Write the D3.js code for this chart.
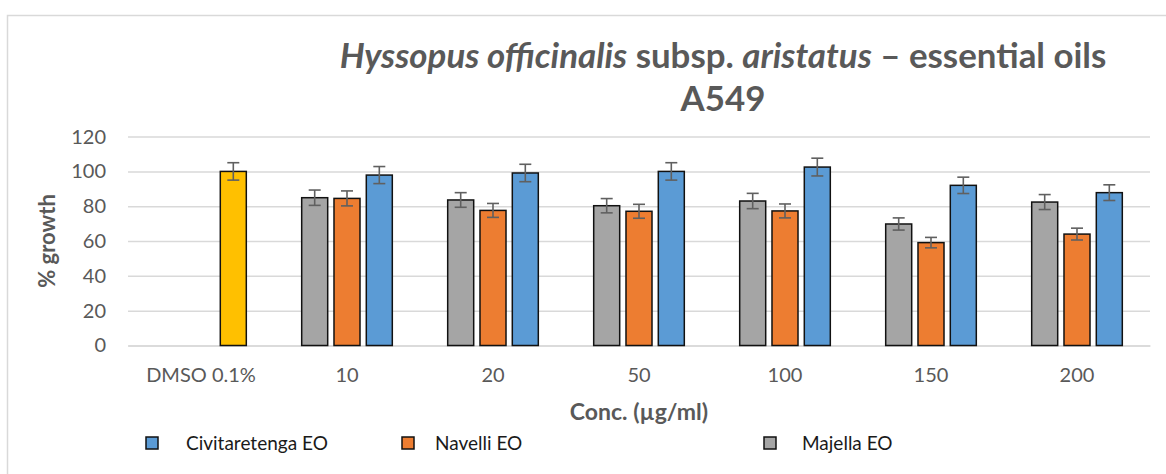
<!DOCTYPE html>
<html>
<head>
<meta charset="utf-8">
<script src="https://cdn.jsdelivr.net/npm/d3@7"></script>
<style>
  html, body { margin: 0; padding: 0; background: #fff; }
  svg { display: block; font-family: Lato, "Open Sans", sans-serif; }
</style>
</head>
<body>
<svg id="chart" width="1166" height="474"></svg>
<script>
// Concentrations tested (first group is the vehicle control)
const categories = ["DMSO 0.1%", "10", "20", "50", "100", "150", "200"];

// Series in bar order within each group (left to right)
const seriesNames = ["Majella EO", "Navelli EO", "Civitaretenga EO"];
// Legend order
const legendOrder = ["Civitaretenga EO", "Navelli EO", "Majella EO"];

// Mean % growth per concentration (null = not tested)
const majella       = [null, 84.9, 83.6, 80.3, 83.0, 69.8, 82.4];
const navelli       = [null, 84.5, 77.6, 77.1, 77.3, 59.1, 64.0];
const civitaretenga = [100.0, 97.9, 99.1, 100.0, 102.5, 92.0, 87.8];

// Error bar half-widths (SD)
const majellaErr       = [null, 4.4, 4.2, 4.1, 4.4, 3.5, 4.3];
const navelliErr       = [null, 4.3, 4.0, 4.0, 4.0, 3.0, 3.4];
const civitaretengaErr = [5.0, 4.9, 5.0, 5.0, 5.1, 4.7, 4.5];

const yTicks = [0, 20, 40, 60, 80, 100, 120];

const colors = {
  "Majella EO": "#A5A5A5",
  "Navelli EO": "#ED7D31",
  "Civitaretenga EO": "#5B9BD5"
};
const controlColor = "#FFC000";
const textColor = "#595959";
const gridColor = "#D9D9D9";

const values = {
  "Majella EO": majella,
  "Navelli EO": navelli,
  "Civitaretenga EO": civitaretenga
};
const errors = {
  "Majella EO": majellaErr,
  "Navelli EO": navelliErr,
  "Civitaretenga EO": civitaretengaErr
};

const svg = d3.select("#chart");

// Chart frame
svg.append("rect")
  .attr("x", 7.5).attr("y", 15.5)
  .attr("width", 1200).attr("height", 500)
  .attr("fill", "#fff")
  .attr("stroke", gridColor).attr("stroke-width", 1.5);

const plot = { left: 128, right: 1150, top: 136.6, bottom: 345.5 };

const x0 = d3.scaleBand()
  .domain(categories)
  .range([plot.left, plot.right])
  .padding(0);

const x1 = d3.scaleBand()
  .domain(seriesNames)
  .range([0, x0.bandwidth()])
  .paddingInner(0.195)
  .paddingOuter(0.857);

const y = d3.scaleLinear()
  .domain([0, 120])
  .range([plot.bottom, plot.top]);

// Horizontal gridlines
const yAxis = d3.axisLeft(y)
  .tickValues(yTicks)
  .tickSize(-(plot.right - plot.left))
  .tickPadding(22);

const gy = svg.append("g")
  .attr("transform", `translate(${plot.left},0)`)
  .call(yAxis);
gy.select(".domain").remove();
gy.selectAll(".tick line")
  .attr("stroke", gridColor).attr("stroke-width", 1.5);
gy.selectAll(".tick text")
  .attr("fill", textColor)
  .attr("font-size", 20)
  .attr("font-family", "Lato, sans-serif");

// Category axis
const xAxis = d3.axisBottom(x0).tickSize(0).tickPadding(22);
const gx = svg.append("g")
  .attr("transform", `translate(0,${plot.bottom})`)
  .call(xAxis);
gx.select(".domain").attr("stroke", gridColor).attr("stroke-width", 1.5);
gx.selectAll(".tick text")
  .attr("fill", textColor)
  .attr("font-size", 20)
  .attr("font-family", "Lato, sans-serif");

// Bars
const barData = [];
seriesNames.forEach(s => {
  categories.forEach((c, i) => {
    const v = values[s][i];
    if (v === null) return;
    barData.push({ series: s, cat: c, value: v, err: errors[s][i] });
  });
});

const bars = svg.append("g");
bars.selectAll("rect")
  .data(barData)
  .join("rect")
  .attr("x", d => x0(d.cat) + x1(d.series))
  .attr("y", d => y(d.value))
  .attr("width", x1.bandwidth())
  .attr("height", d => y(0) - y(d.value))
  .attr("fill", d => d.cat === "DMSO 0.1%" ? controlColor : colors[d.series])
  .attr("stroke", "#111")
  .attr("stroke-width", 1.5);

// Error bars
const capHalf = 6;
const eb = svg.append("g")
  .attr("stroke", "#606060")
  .attr("stroke-width", 1.6)
  .attr("fill", "none");
barData.forEach(d => {
  const cx = x0(d.cat) + x1(d.series) + x1.bandwidth() / 2;
  const yHi = y(d.value + d.err), yLo = y(d.value - d.err);
  eb.append("line").attr("x1", cx).attr("x2", cx).attr("y1", yHi).attr("y2", yLo);
  eb.append("line").attr("x1", cx - capHalf).attr("x2", cx + capHalf).attr("y1", yHi).attr("y2", yHi);
  eb.append("line").attr("x1", cx - capHalf).attr("x2", cx + capHalf).attr("y1", yLo).attr("y2", yLo);
});

// Title
const title = svg.append("text")
  .attr("x", 723).attr("y", 68)
  .attr("text-anchor", "middle")
  .attr("fill", textColor)
  .attr("font-weight", "bold")
  .attr("font-size", 31);
title.append("tspan").attr("font-style", "italic").text("Hyssopus officinalis");
title.append("tspan").text(" subsp. ");
title.append("tspan").attr("font-style", "italic").text("aristatus");
title.append("tspan").text(" \u2013 essential oils");

// Fit the first title line to its intended width
const tw = title.node().getComputedTextLength();
title.attr("font-size", 31 * 767 / tw);

svg.append("text")
  .attr("x", 723).attr("y", 111)
  .attr("text-anchor", "middle")
  .attr("fill", textColor)
  .attr("font-weight", "bold")
  .attr("font-size", title.attr("font-size"))
  .text("A549");

// Axis titles
svg.append("text")
  .attr("transform", `translate(55,241) rotate(-90)`)
  .attr("text-anchor", "middle")
  .attr("fill", textColor)
  .attr("font-weight", "bold")
  .attr("font-size", 22)
  .text("% growth");

svg.append("text")
  .attr("x", (plot.left + plot.right) / 2).attr("y", 420)
  .attr("text-anchor", "middle")
  .attr("fill", textColor)
  .attr("font-weight", "bold")
  .attr("font-size", 23)
  .text("Conc. (\u00b5g/ml)");

// Legend
const legendX = { "Civitaretenga EO": 146, "Navelli EO": 402, "Majella EO": 764 };
const legendTextX = { "Civitaretenga EO": 186, "Navelli EO": 435, "Majella EO": 802 };
const lg = svg.append("g");
legendOrder.forEach(s => {
  lg.append("rect")
    .attr("x", legendX[s]).attr("y", 437)
    .attr("width", 12).attr("height", 12)
    .attr("fill", colors[s])
    .attr("stroke", "#111").attr("stroke-width", 1.5);
  lg.append("text")
    .attr("x", legendTextX[s]).attr("y", 450)
    .attr("fill", "#1a1a1a")
    .attr("font-size", 19)
    .text(s);
});
</script>
</body>
</html>
